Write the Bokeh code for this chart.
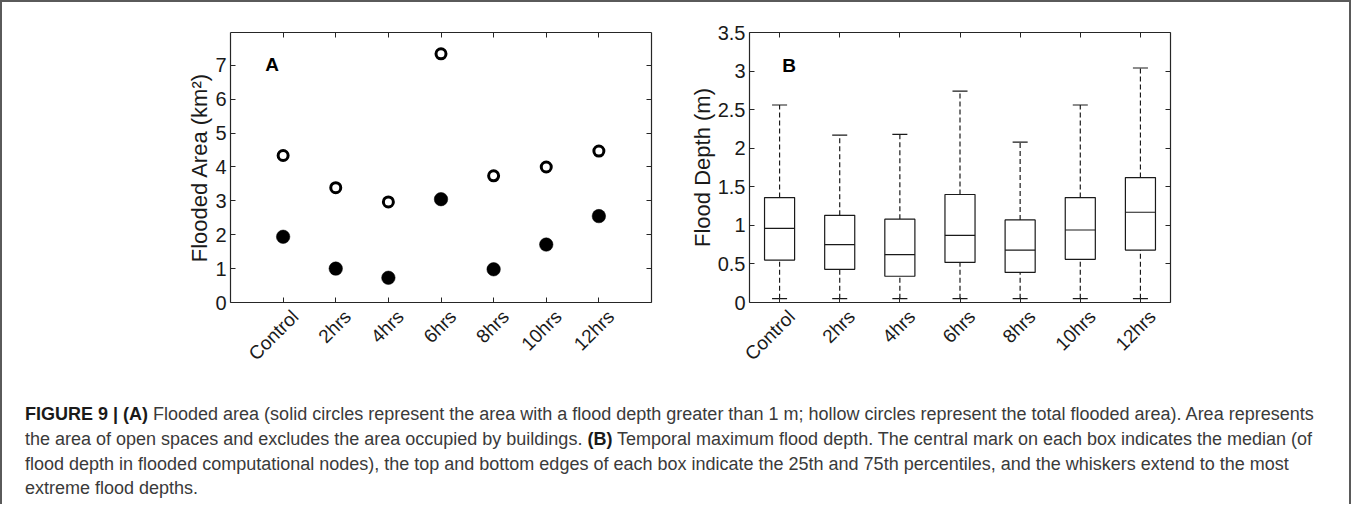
import math
from bokeh.plotting import figure
from bokeh.models import (FixedTicker, LinearAxis, Range1d, Div, CustomJSTickFormatter,
                          ColumnDataSource)
from bokeh.layouts import row, column
from bokeh.transform import dodge
from bokeh.core.properties import value
from bokeh.embed import file_html
from bokeh.resources import INLINE

# ---------------- data ----------------
categories = ["Control", "2hrs", "4hrs", "6hrs", "8hrs", "10hrs", "12hrs"]
positions = [1, 2, 3, 4, 5, 6, 7]

total_area = [4.34, 3.39, 2.97, 7.34, 3.74, 4.00, 4.47]     # hollow circles
deep_area = [1.94, 1.00, 0.73, 3.05, 0.98, 1.71, 2.55]      # solid circles (depth > 1 m)

depth_min = [0.05, 0.05, 0.05, 0.05, 0.05, 0.05, 0.05]
depth_q1 = [0.55, 0.43, 0.34, 0.52, 0.39, 0.56, 0.68]
depth_median = [0.96, 0.75, 0.62, 0.87, 0.68, 0.94, 1.17]
depth_q3 = [1.36, 1.13, 1.08, 1.40, 1.07, 1.36, 1.62]
depth_max = [2.56, 2.17, 2.18, 2.74, 2.08, 2.56, 3.04]

yticks_a = [0, 1, 2, 3, 4, 5, 6, 7]
yticks_b = [0, 0.5, 1, 1.5, 2, 2.5, 3, 3.5]
ylabels_b = ["0", "0.5", "1", "1.5", "2", "2.5", "3", "3.5"]

FONT = "Liberation Sans"
AX = "#262626"
TXT = "#1a1a1a"
FRAME_W = 421
LABEL_SHIFT_PX = 12
empty_fmt = CustomJSTickFormatter(code="return ''")


def style_axis(ax, labels=True):
    ax.axis_line_color = AX
    ax.axis_line_width = 1.2
    ax.major_tick_line_color = AX
    ax.major_tick_in = 5
    ax.major_tick_out = 0
    ax.minor_tick_line_color = None
    ax.major_label_text_font = FONT
    ax.major_label_text_font_size = "20px"
    ax.major_label_text_color = TXT
    ax.axis_label_text_font = FONT
    ax.axis_label_text_font_size = "22px"
    ax.axis_label_text_font_style = "normal"
    ax.axis_label_text_color = TXT
    if not labels:
        ax.formatter = empty_fmt
        ax.major_label_standoff = 0
        ax.major_label_text_font_size = "0px"


def make_fig(xr, yr, xticks, yticks, ylabel, ylab_over, mbl, mbr):
    p = figure(output_backend="svg", toolbar_location=None,
               frame_width=FRAME_W, frame_height=270,
               min_border_left=mbl, min_border_right=mbr,
               min_border_top=30, min_border_bottom=66,
               x_range=xr, y_range=yr, x_axis_location=None, y_axis_location=None)
    p.outline_line_color = None
    p.xgrid.visible = False
    p.ygrid.visible = False
    p.background_fill_color = "white"
    p.border_fill_color = "white"
    xt = FixedTicker(ticks=xticks, minor_ticks=[])
    yt = FixedTicker(ticks=yticks, minor_ticks=[])

    # bottom frame edge with inward ticks
    bottom = LinearAxis(ticker=xt)
    style_axis(bottom, labels=False)
    p.add_layout(bottom, "below")

    # rotated category labels: a label-only axis on a range shifted a few pixels,
    # so each label ends just below-right of its tick (as in the original)
    d = LABEL_SHIFT_PX * (xr.end - xr.start) / FRAME_W
    p.extra_x_ranges = {"lab": Range1d(xr.start - d, xr.end - d)}
    lab = LinearAxis(x_range_name="lab", ticker=xt,
                     major_label_overrides={pos: cat for pos, cat in zip(xticks, categories)})
    style_axis(lab)
    lab.axis_line_color = None
    lab.major_tick_line_color = None
    lab.major_label_text_font_size = "19px"
    lab.major_label_orientation = math.pi / 4
    lab.major_label_standoff = 11
    p.add_layout(lab, "below")

    left = LinearAxis(ticker=yt, axis_label=ylabel, major_label_overrides=ylab_over)
    style_axis(left)
    left.major_label_standoff = 4
    left.axis_label_standoff = 0
    p.add_layout(left, "left")

    top = LinearAxis(ticker=xt)
    style_axis(top, labels=False)
    p.add_layout(top, "above")
    right = LinearAxis(ticker=yt)
    style_axis(right, labels=False)
    p.add_layout(right, "right")
    return p


# ---------------- panel A ----------------
pa = make_fig(Range1d(0, 8), Range1d(0, 7.97), positions, yticks_a,
              "Flooded Area (km²)", {t: str(t) for t in yticks_a}, 228, 30)
src_a = ColumnDataSource(dict(x=positions, total=total_area, deep=deep_area))
pa.scatter("x", "total", source=src_a, marker="circle", size=10,
           fill_color="white", line_color="black", line_width=3)
pa.scatter("x", "deep", source=src_a, marker="circle", size=13.5,
           fill_color="black", line_color="black", line_width=0.5)
pa.text(x=[0.79], y=[7.02], text=["A"], text_font=value(FONT), text_font_size="19px",
        text_font_style="bold", text_align="center", text_baseline="middle", text_color="black")

# ---------------- panel B ----------------
pb = make_fig(Range1d(0.5, 7.5), Range1d(0, 3.5), positions, yticks_b,
              "Flood Depth (m)", dict(zip(yticks_b, ylabels_b)), 68, 166)
src_b = ColumnDataSource(dict(x=positions, lo=depth_min, q1=depth_q1, med=depth_median,
                              q3=depth_q3, hi=depth_max))
LC = "#1a1a1a"
pb.segment(x0="x", y0="q3", x1="x", y1="hi", source=src_b, line_color=LC,
           line_width=1.2, line_dash="5 3")
pb.segment(x0="x", y0="lo", x1="x", y1="q1", source=src_b, line_color=LC,
           line_width=1.2, line_dash="5 3")
pb.segment(x0=dodge("x", -0.125), y0="hi", x1=dodge("x", 0.125), y1="hi",
           source=src_b, line_color=LC, line_width=1.2)
pb.segment(x0=dodge("x", -0.125), y0="lo", x1=dodge("x", 0.125), y1="lo",
           source=src_b, line_color=LC, line_width=1.2)
pb.vbar(x="x", width=0.5, bottom="q1", top="q3", source=src_b,
        fill_color="white", line_color=LC, line_width=1.2)
pb.segment(x0=dodge("x", -0.25), y0="med", x1=dodge("x", 0.25), y1="med",
           source=src_b, line_color=LC, line_width=1.2)
pb.text(x=[1.16], y=[3.075], text=["B"], text_font=value(FONT), text_font_size="19px",
        text_font_style="bold", text_align="center", text_baseline="middle", text_color="black")

# ---------------- caption ----------------
lines = [
    "<b>FIGURE 9 | (A)</b> Flooded area (solid circles represent the area with a flood depth greater than 1 m; hollow circles represent the total flooded area). Area represents",
    "the area of open spaces and excludes the area occupied by buildings. <b>(B)</b> Temporal maximum flood depth. The central mark on each box indicates the median (of",
    "flood depth in flooded computational nodes), the top and bottom edges of each box indicate the 25th and 75th percentiles, and the whiskers extend to the most",
    "extreme flood depths.",
]
line_divs = "".join(
    '<div style="line-height:%dpx;height:%dpx;">%s</div>' % (22 if i == len(lines) - 1 else 25,
                                                            22 if i == len(lines) - 1 else 25, ln)
    for i, ln in enumerate(lines))
cap_html = ('<div style="font-family:\'Liberation Sans\',sans-serif;font-size:18px;'
            'color:#3a3a3a;white-space:nowrap;padding-left:18px;padding-top:23px;height:120px;'
            'box-sizing:border-box;">' + line_divs + "</div>")
cap_html = cap_html.replace("<b>", '<b style="color:#1a1a1a">')
caption = Div(text=cap_html, width=1337, height=120)

layout = column(row(pa, pb), caption,
                styles={"border-left": "2px solid #5a5a5a", "border-top": "2px solid #5a5a5a",
                        "border-right": "2px solid #5a5a5a"})

open("out.html", "w").write(file_html(layout, INLINE))
